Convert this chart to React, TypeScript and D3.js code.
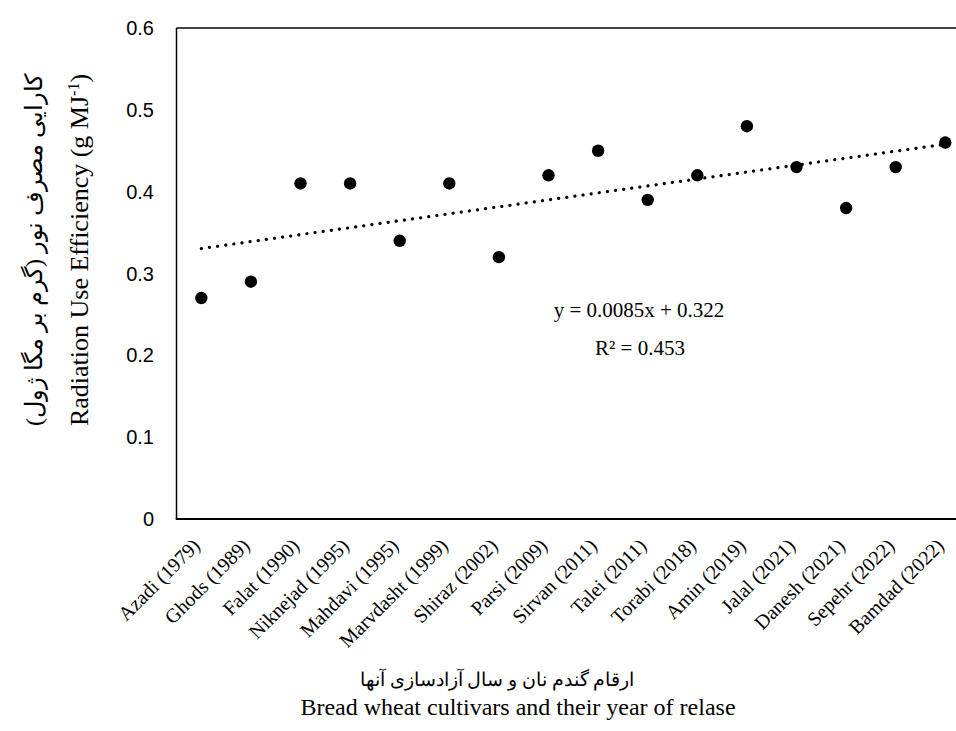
import React from "react";
import * as d3 from "d3";

const cultivars = [
  "Azadi (1979)", "Ghods (1989)", "Falat (1990)", "Niknejad (1995)", "Mahdavi (1995)",
  "Marvdasht (1999)", "Shiraz (2002)", "Parsi (2009)", "Sirvan (2011)", "Talei (2011)",
  "Torabi (2018)", "Amin (2019)", "Jalal (2021)", "Danesh (2021)", "Sepehr (2022)", "Bamdad (2022)",
];
const rue = [0.27, 0.29, 0.41, 0.41, 0.34, 0.41, 0.32, 0.42, 0.45, 0.39, 0.42, 0.48, 0.43, 0.38, 0.43, 0.46];
const yTicks = [0, 0.1, 0.2, 0.3, 0.4, 0.5, 0.6];
const trendSlope = 0.0085;
const trendIntercept = 0.322;
const equationText = "y = 0.0085x + 0.322";
const r2Text = "R² = 0.453";

const W = 956;
const H = 731;
const m = { left: 176.5, top: 28, bottom: 519 };
const plotRight = 176.5 + 16 * 49.6;

export default function App() {
  const x = d3.scaleBand<string>().domain(cultivars).range([m.left, plotRight]).padding(0);
  const y = d3.scaleLinear().domain([0, 0.6]).range([m.bottom, m.top]);
  const cx = (c: string) => (x(c) ?? 0) + x.bandwidth() / 2;

  const trendPts: [number, number][] = [1, cultivars.length].map((i) => [
    cx(cultivars[i - 1]),
    y(trendSlope * i + trendIntercept),
  ]);
  const line = d3.line();

  const serif = "'Liberation Serif', 'Times New Roman', 'DejaVu Serif', serif";
  const sans = "'Liberation Sans', 'Open Sans', Arial, sans-serif";

  return (
    <svg width={W} height={H} style={{ position: "absolute", left: 0, top: 0, background: "#fff" }}>
      <rect x={0} y={0} width={W} height={H} fill="#fff" />
      {/* plot border */}
      <line x1={m.left} x2={plotRight} y1={m.top} y2={m.top} stroke="#000" strokeWidth={1.5} />
      <line x1={m.left} x2={m.left} y1={m.top} y2={m.bottom} stroke="#000" strokeWidth={1.5} />
      <line x1={plotRight} x2={plotRight} y1={m.top} y2={m.bottom} stroke="#000" strokeWidth={1.5} />
      <line x1={m.left - 0.75} x2={plotRight} y1={m.bottom} y2={m.bottom} stroke="#000" strokeWidth={2} />

      {/* y tick labels */}
      {yTicks.map((t) => (
        <text key={t} x={154} y={y(t)} dy="0.35em" textAnchor="end" fontFamily={sans} fontSize={20} fill="#000">
          {t === 0 ? "0" : d3.format(".1f")(t)}
        </text>
      ))}

      {/* x tick labels */}
      {cultivars.map((c) => (
        <text
          key={c}
          transform={`translate(${cx(c)},${m.bottom + 28}) rotate(-45)`}
          textAnchor="end"
          fontFamily={serif}
          fontSize={20}
          fill="#000"
        >
          {c}
        </text>
      ))}

      {/* trend line */}
      <path
        d={line(trendPts) ?? ""}
        fill="none"
        stroke="#000"
        strokeWidth={3.2}
        strokeDasharray="0.1 8.1"
        strokeLinecap="round"
      />

      {/* points */}
      {cultivars.map((c, i) => (
        <circle key={c} cx={cx(c)} cy={y(rue[i])} r={6.2} fill="#000" />
      ))}

      {/* equation */}
      <text x={639} y={317} textAnchor="middle" fontFamily={serif} fontSize={21} fill="#000">
        {equationText}
      </text>
      <text x={640} y={355} textAnchor="middle" fontFamily={serif} fontSize={21} fill="#000">
        {r2Text}
      </text>

      {/* y axis title */}
      <g transform="translate(42,250) rotate(-90)">
        <text x={0} y={0} textAnchor="middle" fontFamily={serif} fontSize={24} fill="#000" direction="rtl">
          کارایی مصرف نور (گرم بر مگا ژول)
        </text>
      </g>
      <g transform="translate(88,250) rotate(-90)">
        <text x={0} y={0} textAnchor="middle" fontFamily={serif} fontSize={26} fill="#000">
          Radiation Use Efficiency (g MJ<tspan dy="-9" fontSize={16}>-1</tspan><tspan dy="9">)</tspan>
        </text>
      </g>

      {/* x axis title */}
      <text x={497} y={686} textAnchor="middle" fontFamily={serif} fontSize={19} fill="#000" direction="rtl">
        ارقام گندم نان و سال آزادسازی آنها
      </text>
      <text x={518} y={715} textAnchor="middle" fontFamily={serif} fontSize={24} fill="#000">
        Bread wheat cultivars and their year of relase
      </text>
    </svg>
  );
}
